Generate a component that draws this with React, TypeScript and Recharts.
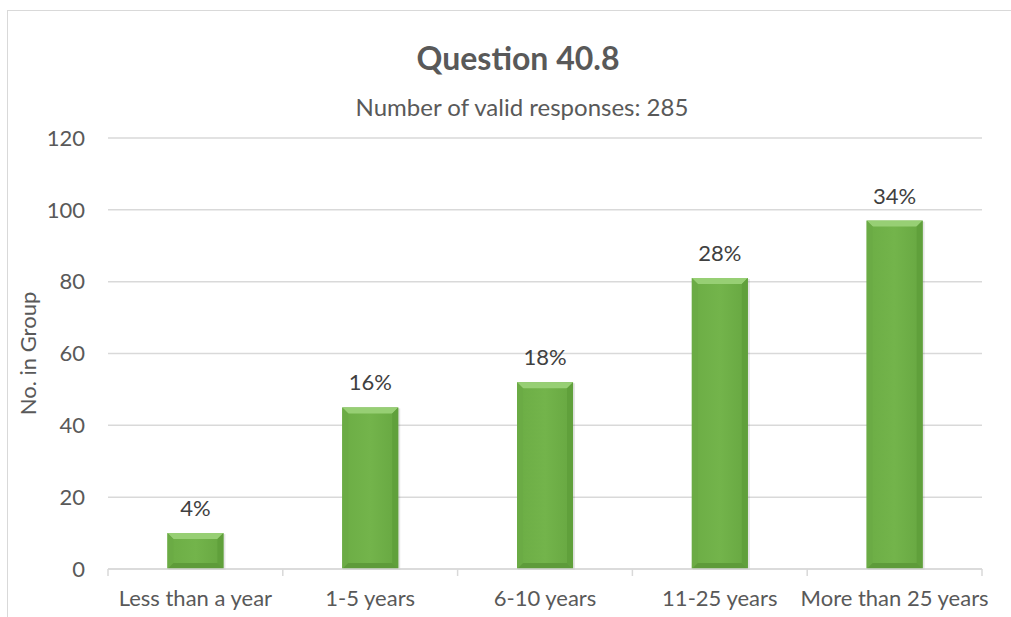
import React from 'react';
import { BarChart, Bar, XAxis, YAxis, CartesianGrid, LabelList } from 'recharts';

const categories = ['Less than a year', '1-5 years', '6-10 years', '11-25 years', 'More than 25 years'];
const counts = [10, 45, 52, 81, 97];
const percentLabels = ['4%', '16%', '18%', '28%', '34%'];
const yTicks = [0, 20, 40, 60, 80, 100, 120];

const data = categories.map((name, i) => ({ name, count: counts[i], pct: percentLabels[i] }));

const FONT = 'Lato, "Open Sans", sans-serif';
const TEXT = '#595959';

// bevelled green bar, roughly like the Office preset
const BevelBar: React.FC<any> = ({ x, y, width, height }) => {
  if (!height || height <= 0) return null;
  const b = Math.min(6, height / 2);
  return (
    <g>
      <rect x={x + 1} y={y + 1} width={width + 1} height={height} fill="#000" opacity={0.1} />
      <rect x={x} y={y} width={width} height={height} fill="url(#barFill)" />
      <polygon points={`${x},${y} ${x + width},${y} ${x + width - b},${y + b} ${x + b},${y + b}`} fill="#97cf74" />
      <polygon points={`${x},${y} ${x + b},${y + b} ${x + b},${y + height - b} ${x},${y + height}`} fill="#6bab45" />
      <polygon points={`${x + width},${y} ${x + width - b},${y + b} ${x + width - b},${y + height - b} ${x + width},${y + height}`} fill="#60a03b" />
      <polygon points={`${x},${y + height} ${x + b},${y + height - b} ${x + width - b},${y + height - b} ${x + width},${y + height}`} fill="#5e9b3a" />
    </g>
  );
};

const CategoryTick: React.FC<any> = ({ x, y, payload, index, visibleTicksCount }) => {
  const half = payload && payload.offset ? payload.offset : 87;
  const axisY = y - 20;
  return (
    <g>
      <line x1={x - half} y1={axisY} x2={x - half} y2={axisY + 7} stroke="#d9d9d9" strokeWidth={1.5} />
      {index === visibleTicksCount - 1 && (
        <line x1={x + half} y1={axisY} x2={x + half} y2={axisY + 7} stroke="#d9d9d9" strokeWidth={1.5} />
      )}
      <text x={x} y={y + 1} dy="0.71em" textAnchor="middle" fill={TEXT} fontSize={22} fontFamily={FONT}>
        {payload.value}
      </text>
    </g>
  );
};

export default function App() {
  return (
    <div style={{ position: 'fixed', left: 0, top: 0, width: 1011, height: 617, overflow: 'hidden', background: '#fff' }}>
      <div style={{ position: 'absolute', left: 7, top: 10, width: 1100, height: 700, border: '1.5px solid #d9d9d9' }} />
      <div style={{ position: 'absolute', left: 0, top: 38, width: 1036, textAlign: 'center', fontFamily: FONT, fontWeight: 700, fontSize: 32, lineHeight: '40px', color: TEXT }}>
        Question 40.8
      </div>
      <div style={{ position: 'absolute', left: 0, top: 93, width: 1044, textAlign: 'center', fontFamily: FONT, fontSize: 24, lineHeight: '28px', color: TEXT }}>
        Number of valid responses: 285
      </div>
      <div style={{ position: 'absolute', left: 0, top: 0 }}>
        <BarChart width={1011} height={617} data={data} margin={{ top: 138, right: 29, bottom: 8, left: 0 }} barCategoryGap="34%">
          <defs>
            <linearGradient id="barFill" x1="0" y1="0" x2="1" y2="0">
              <stop offset="0%" stopColor="#6cad45" />
              <stop offset="50%" stopColor="#73b44b" />
              <stop offset="100%" stopColor="#67a741" />
            </linearGradient>
          </defs>
          <CartesianGrid vertical={false} stroke="#d9d9d9" strokeWidth={1.5} />
          <XAxis
            dataKey="name"
            height={40}
            axisLine={{ stroke: '#d9d9d9', strokeWidth: 1.5 }}
            tickLine={false}
            tickSize={6}
            tickMargin={14}
            interval={0}
            tick={<CategoryTick />}
          />
          <YAxis
            width={108}
            domain={[0, 120]}
            ticks={yTicks}
            axisLine={false}
            tickLine={false}
            tickSize={0}
            tickMargin={23}
            tick={{ fill: TEXT, fontSize: 22, fontFamily: FONT }}
            label={{ value: 'No. in Group', angle: -90, position: 'insideLeft', offset: 28, style: { fill: TEXT, fontSize: 22, fontFamily: FONT, textAnchor: 'middle' } }}
          />
          <Bar dataKey="count" shape={<BevelBar />} isAnimationActive={false}>
            <LabelList dataKey="pct" position="top" offset={17} fill="#404040" fontSize={22} fontFamily={FONT} />
          </Bar>
        </BarChart>
      </div>
    </div>
  );
}
